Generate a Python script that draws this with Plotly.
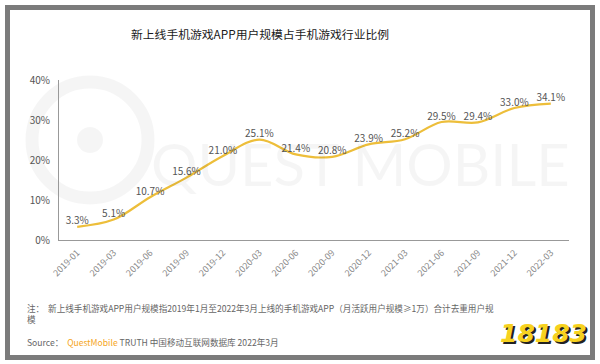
import plotly.graph_objects as go

categories = ["2019-01", "2019-03", "2019-06", "2019-09", "2019-12", "2020-03", "2020-06",
              "2020-09", "2020-12", "2021-03", "2021-06", "2021-09", "2021-12", "2022-03"]
values = [3.3, 5.1, 10.7, 15.6, 21.0, 25.1, 21.4, 20.8, 23.9, 25.2, 29.5, 29.4, 33.0, 34.1]
y_ticks = [0, 10, 20, 30, 40]
y_tick_labels = ["0%", "10%", "20%", "30%", "40%"]

W, H = 600, 364
L, R, T, B = 59, 31, 80, 124
PW, PH = W - L - R, H - T - B

def px(x):
    return (x - L) / PW

def py(y):
    return (H - B - y) / PH

FONT = "Noto Sans CJK SC"

fig = go.Figure()
fig.add_trace(go.Scatter(
    x=categories, y=values, mode="lines+text",
    line=dict(color="#EDBE3A", width=2.2, shape="spline", smoothing=1.0),
    text=[f"{v:.1f}%" for v in values], textposition="top center",
    textfont=dict(family=FONT, size=10, color="#555555"),
    cliponaxis=False, hoverinfo="skip", showlegend=False,
))

shapes = [
    # outer frame
    dict(type="rect", xref="paper", yref="paper", x0=px(7.5), x1=px(592.5), y0=py(7.5), y1=py(357.5),
         line=dict(color="#7B7B7B", width=5), layer="below"),
    # watermark circles
    dict(type="circle", xref="paper", yref="paper", x0=px(32), x1=px(148), y0=py(82), y1=py(198),
         line=dict(color="rgba(0,0,0,0.04)", width=13), layer="below"),
    dict(type="circle", xref="paper", yref="paper", x0=px(77), x1=px(103), y0=py(127), y1=py(153),
         fillcolor="rgba(0,0,0,0.04)", line=dict(width=0), layer="below"),
]

annotations = [
    dict(text="新上线手机游戏APP用户规模占手机游戏行业比例", xref="paper", yref="paper",
         x=px(260), y=py(33), xanchor="center", yanchor="middle", showarrow=False,
         font=dict(family=FONT, size=11.8, color="#1a1a1a")),
    dict(text="QUEST MOBILE", xref="paper", yref="paper", x=px(572), y=py(163),
         xanchor="right", yanchor="middle", showarrow=False,
         font=dict(family="Lato", size=58, color="rgba(0,0,0,0.04)")),
    dict(text="注：  新上线手机游戏APP用户规模指2019年1月至2022年3月上线的手机游戏APP（月活跃用户规模≥1万）合计去重用户规<br>模",
         xref="paper", yref="paper", x=px(25), y=py(300), xanchor="left", yanchor="top",
         align="left", showarrow=False, font=dict(family=FONT, size=8.6, color="#666666")),
    dict(text="Source：  <span style='color:#F5A623'>QuestMobile</span> TRUTH 中国移动互联网数据库 2022年3月",
         xref="paper", yref="paper", x=px(25), y=py(342), xanchor="left", yanchor="middle",
         align="left", showarrow=False, font=dict(family=FONT, size=8.6, color="#666666")),
    dict(text="<b><i>18183</i></b>", xref="paper", yref="paper", x=px(543), y=py(333),
         xanchor="center", yanchor="middle", showarrow=False,
         font=dict(family="DejaVu Sans", size=25, color="#F7D21E", shadow="2px 2px 0px #222222")),
]

fig.update_layout(
    width=W, height=H, margin=dict(l=L, r=R, t=T, b=B),
    paper_bgcolor="white", plot_bgcolor="white",
    shapes=shapes, annotations=annotations,
    xaxis=dict(type="category", showgrid=False, zeroline=False, showline=True,
               linecolor="#999999", linewidth=1, ticks="", tickangle=-45,
               ticklabelstandoff=3,
               tickfont=dict(family=FONT, size=9, color="#888888"),
               range=[-0.5, len(categories) - 0.5]),
    yaxis=dict(range=[0, 40], showgrid=False, zeroline=False, showline=True,
               linecolor="#999999", linewidth=1, ticks="",
               ticklabelstandoff=6,
               tickvals=y_ticks, ticktext=y_tick_labels,
               tickfont=dict(family=FONT, size=10, color="#555555")),
)

fig.write_html("out.html", config={"displayModeBar": False},
               post_script="document.body.style.margin='0';document.body.style.overflow='hidden';")
